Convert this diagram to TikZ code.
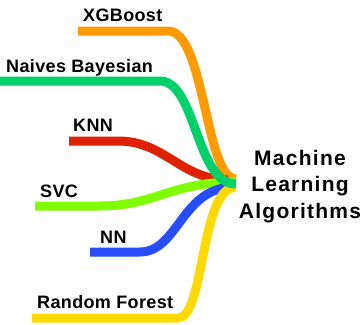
\documentclass[tikz,border=0pt]{standalone}
\usepackage{fontspec}
\setmainfont{Liberation Sans}
\newfontfamily\lblfont{Liberation Sans}[LetterSpace=2]
\newfontfamily\hubfont{Liberation Sans}[LetterSpace=6]
\usetikzlibrary{positioning}
\definecolor{xgbOrange}{RGB}{255,155,0}
\definecolor{nbGreen}{RGB}{0,208,106}
\definecolor{knnRed}{RGB}{222,34,0}
\definecolor{svcLime}{RGB}{128,255,0}
\definecolor{nnBlue}{RGB}{40,76,255}
\definecolor{rfYellow}{RGB}{255,218,0}
\tikzset{
  algo/.style={line width=9pt},
  lbl/.style={font=\lblfont\bfseries\fontsize{18}{22}\selectfont, inner sep=0pt, anchor=base west},
  hubtxt/.style={font=\hubfont\bfseries\fontsize{21}{26.5}\selectfont, inner sep=0pt, align=center, anchor=north}
}

\begin{document}
\begin{tikzpicture}[x=1pt, y=-1pt]
    \useasboundingbox (0,0) rectangle (364,324);

    % labels
    \node[lbl] (xgb) at (83,21) {XGBoost};
    \node[lbl] (nb) at (6,72) {Naives Bayesian};
    \node[lbl] (knn) at (73,131) {KNN};
    \node[lbl] (svc) at (40,197) {SVC};
    \node[lbl] (nn) at (100,243) {NN};
    \node[lbl] (rf) at (37,308) {Random Forest};
    \node[hubtxt] (mla) at (300,150) {Machine\\Learning\\Algorithms};

    % start and end points of the bands
    \coordinate (xgb-s) at (78,31);
    \coordinate (nb-s) at (0,81);
    \coordinate (knn-s) at (69,141);
    \coordinate (svc-s) at (35,206);
    \coordinate (nn-s) at (90,252);
    \coordinate (rf-s) at (32,318);

    \draw[algo, xgbOrange] (xgb-s) -- (168,31) .. controls (205,31) and (205,179) .. (236,179);
    \draw[algo, knnRed] (knn-s) -- (118,141) .. controls (165,141) and (180,179) .. (228,180);
    \draw[algo, svcLime] (svc-s) -- (100,206) .. controls (155,206) and (170,182) .. (236,182);
    \draw[algo, nnBlue] (nn-s) -- (140,252) .. controls (178,252) and (182,187) .. (234,187);
    \draw[algo, rfYellow] (rf-s) -- (178,318) .. controls (205,318) and (200,187) .. (236,187);
    \draw[algo, nbGreen] (nb-s) -- (160,81) .. controls (196,81) and (196,184) .. (236,184);
\end{tikzpicture}
\end{document}
